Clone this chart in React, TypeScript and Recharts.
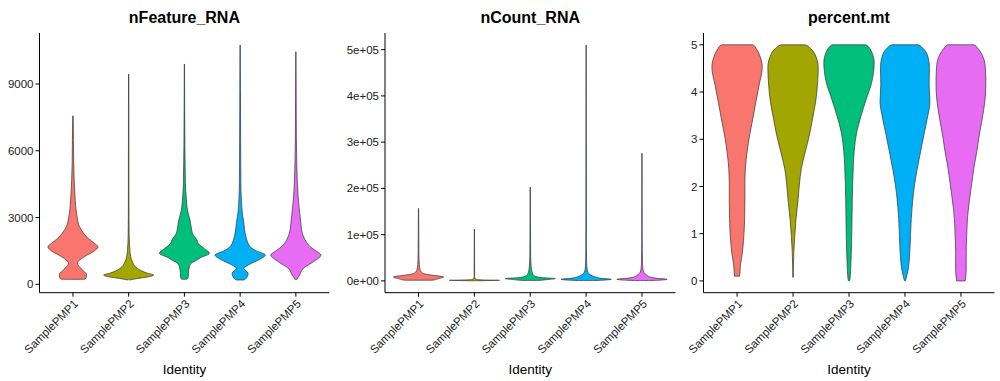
import React from "react";
import { ComposedChart, Area, XAxis, YAxis } from "recharts";

const SAMPLES = ["SamplePMP1", "SamplePMP2", "SamplePMP3", "SamplePMP4", "SamplePMP5"];
const COLORS = ["#F8766D", "#A3A500", "#00BF7D", "#00B0F6", "#E76BF3"];
const FONT = '"Liberation Sans", Arial, sans-serif';

// violin outlines: [value, relative half-width (1 = widest)]
const FEATURE_PMP1 = [[225, 0.45], [300, 0.53], [450, 0.54], [600, 0.42], [800, 0.25], [950, 0.18], [1100, 0.28], [1300, 0.55], [1500, 0.85], [1680, 1], [1850, 0.85], [2050, 0.62], [2300, 0.42], [2600, 0.26], [3000, 0.17], [3500, 0.11], [4000, 0.08], [4700, 0.05], [5500, 0.03], [6500, 0.02], [7570, 0.01]];
const FEATURE_PMP2 = [[193, 0.02], [260, 0.35], [330, 0.75], [418, 1], [500, 0.75], [640, 0.45], [790, 0.27], [1000, 0.15], [1250, 0.08], [1500, 0.05], [2200, 0.02], [3000, 0.012], [9450, 0.006]];
const FEATURE_PMP3 = [[225, 0.1], [300, 0.15], [494, 0.16], [790, 0.2], [943, 0.27], [1090, 0.5], [1200, 0.65], [1393, 1], [1600, 0.8], [1840, 0.55], [1990, 0.5], [2290, 0.32], [2590, 0.27], [2900, 0.22], [3340, 0.12], [3790, 0.08], [4240, 0.05], [4610, 0.04], [5280, 0.03], [6180, 0.02], [9900, 0.005]];
const FEATURE_PMP4 = [[193, 0.15], [270, 0.24], [494, 0.32], [718, 0.15], [867, 0.33], [1090, 0.73], [1316, 1], [1500, 0.65], [1690, 0.4], [1990, 0.27], [2290, 0.2], [2740, 0.15], [3190, 0.09], [3790, 0.05], [4540, 0.03], [6480, 0.02], [8800, 0.012], [10750, 0.006]];
const FEATURE_PMP5 = [[193, 0.02], [300, 0.08], [418, 0.15], [718, 0.3], [1015, 0.7], [1316, 1], [1500, 0.8], [1690, 0.57], [1990, 0.37], [2290, 0.26], [2740, 0.2], [3340, 0.14], [3940, 0.09], [4540, 0.06], [5280, 0.04], [6480, 0.02], [8400, 0.012], [10450, 0.006]];

const COUNT_PMP1 = [[1500, 0.55], [5000, 0.8], [8500, 1], [12000, 0.6], [15000, 0.25], [20000, 0.1], [25000, 0.06], [35000, 0.03], [60000, 0.015], [157000, 0.005]];
const COUNT_PMP2 = [[300, 0.05], [800, 0.6], [1300, 1], [2000, 0.4], [3000, 0.1], [5000, 0.03], [10000, 0.01], [112000, 0.004]];
const COUNT_PMP3 = [[1000, 0.3], [3000, 0.7], [5000, 1], [7000, 0.5], [10000, 0.2], [15000, 0.1], [25000, 0.05], [40000, 0.025], [60000, 0.015], [203000, 0.004]];
const COUNT_PMP4 = [[800, 0.3], [2000, 0.8], [3500, 1], [5500, 0.6], [8000, 0.4], [12000, 0.2], [18000, 0.08], [25000, 0.04], [40000, 0.02], [80000, 0.01], [510000, 0.004]];
const COUNT_PMP5 = [[800, 0.3], [2000, 0.8], [3500, 1], [5500, 0.6], [8000, 0.35], [12000, 0.2], [18000, 0.08], [25000, 0.04], [40000, 0.02], [80000, 0.01], [276000, 0.004]];

const MT_PMP1 = [[0.1, 0.1], [0.32, 0.13], [0.6, 0.21], [0.96, 0.27], [1.32, 0.3], [1.67, 0.31], [2.03, 0.31], [2.38, 0.33], [2.74, 0.4], [3.09, 0.5], [3.45, 0.63], [3.8, 0.75], [4.16, 0.88], [4.52, 1], [4.8, 0.88], [4.92, 0.76], [5, 0.63]];
const MT_PMP2 = [[0.07, 0.01], [0.6, 0.03], [0.96, 0.07], [1.32, 0.12], [1.67, 0.19], [2.03, 0.25], [2.38, 0.33], [2.74, 0.49], [3.09, 0.65], [3.45, 0.78], [3.8, 0.9], [4.16, 0.97], [4.52, 1], [4.8, 0.87], [4.92, 0.7], [5, 0.47]];
const MT_PMP3 = [[0, 0.02], [0.04, 0.04], [0.43, 0.08], [1.0, 0.11], [1.71, 0.13], [2.42, 0.17], [2.77, 0.21], [3.13, 0.3], [3.48, 0.47], [3.84, 0.68], [4.2, 0.9], [4.62, 1], [4.85, 0.9], [5, 0.67]];
const MT_PMP4 = [[0, 0.02], [0.25, 0.13], [0.6, 0.19], [0.96, 0.22], [1.32, 0.25], [1.67, 0.3], [2.03, 0.38], [2.38, 0.49], [2.74, 0.62], [3.09, 0.75], [3.45, 0.89], [3.8, 0.99], [4.16, 0.96], [4.52, 0.97], [4.8, 0.88], [4.92, 0.72], [5, 0.53]];
const MT_PMP5 = [[0, 0.17], [0.25, 0.21], [0.6, 0.21], [0.96, 0.23], [1.32, 0.26], [1.67, 0.33], [2.03, 0.42], [2.38, 0.51], [2.74, 0.63], [3.09, 0.73], [3.45, 0.85], [3.8, 0.95], [4.16, 0.99], [4.52, 0.97], [4.8, 0.83], [4.92, 0.68], [5, 0.52]];

const FEATURE_TICKS = [0, 3000, 6000, 9000];
const COUNT_TICKS = [0, 100000, 200000, 300000, 400000, 500000];
const MT_TICKS = [0, 1, 2, 3, 4, 5];

const HALF = 0.45;

// turn a profile into rows for a range Area (vertical layout: x = span, y = value)
function violinRows(profile: number[][], pos: number) {
  const rows = profile.map(([v, w]) => ({ v, span: [pos - w * HALF, pos + w * HALF] }));
  const eps = (profile[profile.length - 1][0] - profile[0][0]) * 1e-4;
  const first = profile[0];
  const last = profile[profile.length - 1];
  // close flat (trimmed) ends so the outline runs across them
  if (first[1] > 0.03) rows.unshift({ v: first[0] - eps, span: [pos, pos] });
  if (last[1] > 0.03) rows.push({ v: last[0] + eps, span: [pos, pos] });
  return rows;
}

function SampleTick({ x, y, payload }: any) {
  return (
    <g transform={`translate(${x},${y})`}>
      <text textAnchor="end" transform="rotate(-45)" dy="0.72em" fontSize={11.5} fill="#222" fontFamily={FONT}>
        {SAMPLES[payload.value - 1]}
      </text>
    </g>
  );
}

interface PanelProps {
  title: string;
  left: number;
  width: number;
  yWidth: number;
  right: number;
  domain: [number, number];
  ticks: number[];
  fmt?: (v: number) => string;
  profiles: number[][][];
}

function Panel({ title, left, width, yWidth, right, domain, ticks, fmt, profiles }: PanelProps) {
  const plotW = width - yWidth - right;
  return (
    <div style={{ position: "absolute", left, top: 0, width, height: 381 }}>
      <div
        style={{
          position: "absolute",
          left: yWidth,
          width: plotW,
          top: 9,
          textAlign: "center",
          fontFamily: FONT,
          fontWeight: "bold",
          fontSize: 16,
          lineHeight: "18px",
          color: "#000",
        }}
      >
        {title}
      </div>
      <ComposedChart width={width} height={381} layout="vertical" margin={{ top: 33, right, bottom: 0, left: 0 }}>
        <XAxis
          type="number"
          domain={[0.4, 5.6]}
          ticks={[1, 2, 3, 4, 5]}
          allowDataOverflow
          height={88.3}
          tickSize={4}
          tickMargin={2}
          axisLine={{ stroke: "#000" }}
          tickLine={{ stroke: "#000" }}
          tick={<SampleTick />}
          interval={0}
          label={{ value: "Identity", position: "insideBottom", offset: 7.5, fontSize: 13.5, fill: "#000", fontFamily: FONT }}
        />
        <YAxis
          type="number"
          dataKey="v"
          domain={domain}
          ticks={ticks}
          reversed
          allowDataOverflow
          width={yWidth}
          tickSize={4}
          tickMargin={2}
          interval={0}
          tickFormatter={fmt}
          axisLine={{ stroke: "#000" }}
          tickLine={{ stroke: "#000" }}
          tick={{ fontSize: 11.5, fill: "#222", fontFamily: FONT }}
        />
        {profiles.map((p, i) => (
          <Area
            key={SAMPLES[i]}
            data={violinRows(p, i + 1)}
            dataKey="span"
            type="monotone"
            fill={COLORS[i]}
            fillOpacity={1}
            stroke="#333"
            strokeWidth={0.7}
            dot={false}
            activeDot={false}
            isAnimationActive={false}
          />
        ))}
      </ComposedChart>
    </div>
  );
}

export default function App() {
  return (
    <div style={{ position: "absolute", left: 0, top: 0, width: 1000, height: 381, background: "#fff" }}>
      <Panel
        title="nFeature_RNA"
        left={0}
        width={335}
        yWidth={39.5}
        right={5.7}
        domain={[-377, 11291]}
        ticks={FEATURE_TICKS}
        profiles={[FEATURE_PMP1, FEATURE_PMP2, FEATURE_PMP3, FEATURE_PMP4, FEATURE_PMP5]}
      />
      <Panel
        title="nCount_RNA"
        left={335}
        width={345}
        yWidth={50}
        right={4.5}
        domain={[-25500, 536000]}
        ticks={COUNT_TICKS}
        fmt={(v) => (v === 0 ? "0e+00" : `${v / 100000}e+05`)}
        profiles={[COUNT_PMP1, COUNT_PMP2, COUNT_PMP3, COUNT_PMP4, COUNT_PMP5]}
      />
      <Panel
        title="percent.mt"
        left={680}
        width={320}
        yWidth={23.5}
        right={5.5}
        domain={[-0.25, 5.25]}
        ticks={MT_TICKS}
        profiles={[MT_PMP1, MT_PMP2, MT_PMP3, MT_PMP4, MT_PMP5]}
      />
    </div>
  );
}
